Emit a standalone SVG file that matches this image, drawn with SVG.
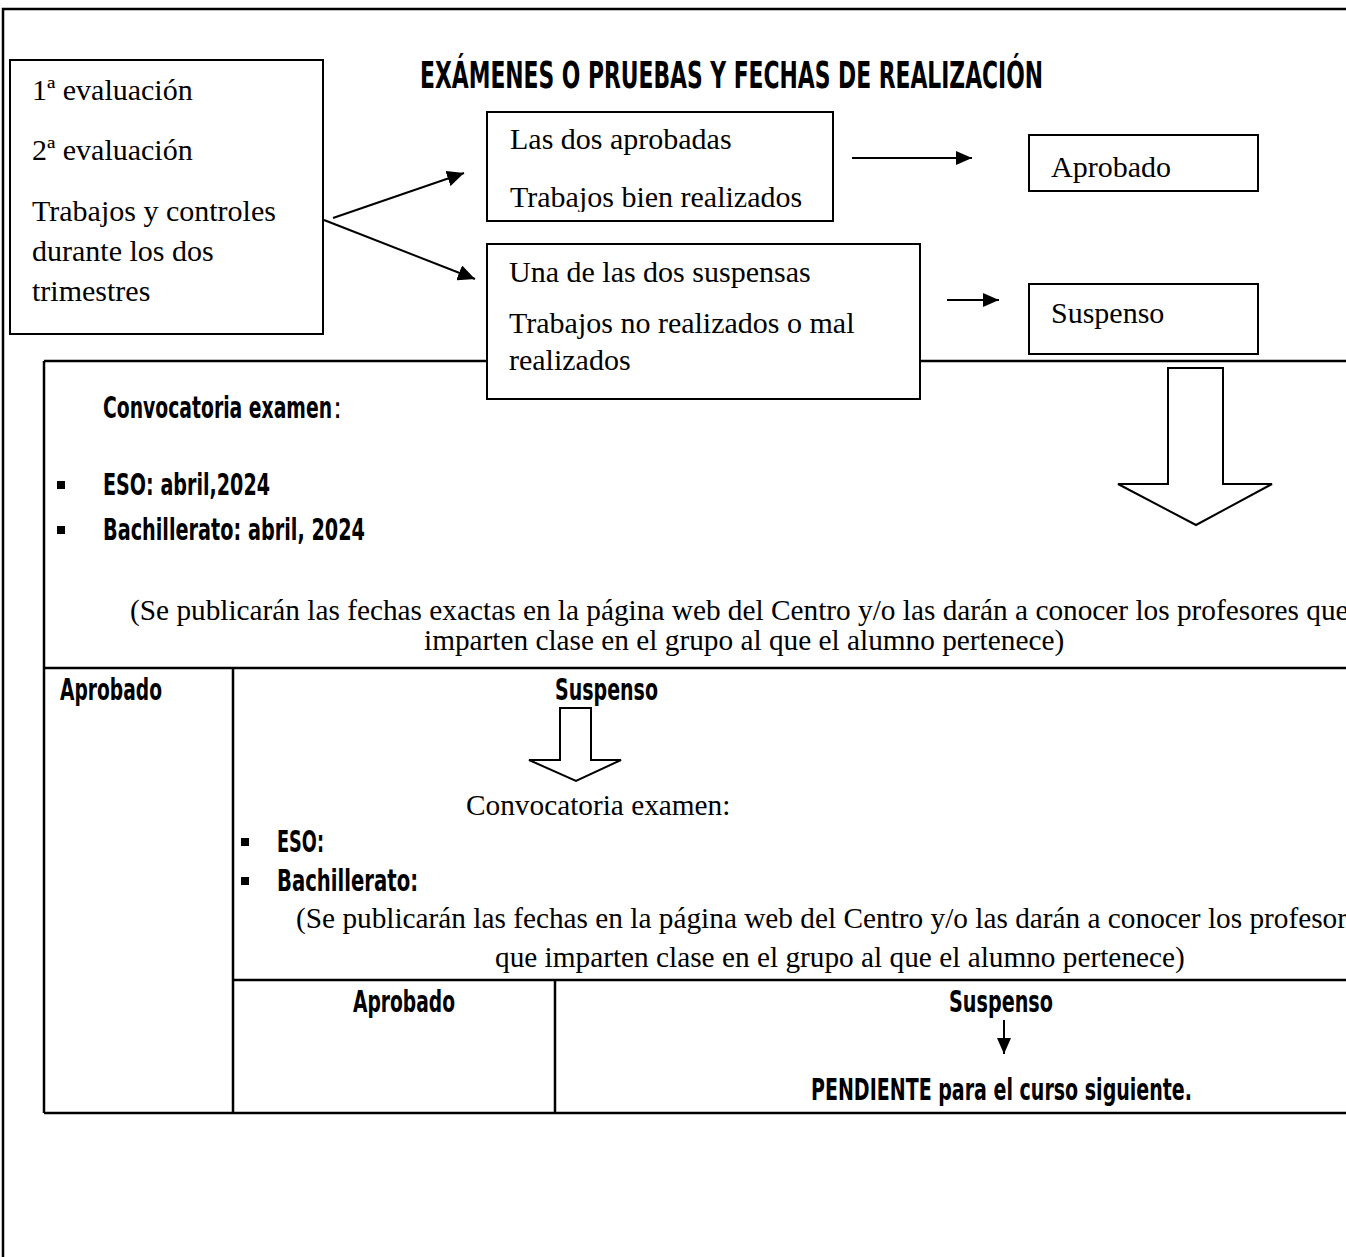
<svg xmlns="http://www.w3.org/2000/svg" width="1346" height="1257" viewBox="0 0 1346 1257">
<style>
.t{font-family:"Liberation Serif","Times New Roman",serif;font-size:30px;fill:#000}
.p{font-size:29.3px}
.b{font-family:"DejaVu Sans Condensed","DejaVu Sans",sans-serif;font-weight:bold;font-stretch:condensed;font-size:30px;fill:#000}
.n{font-weight:normal}
.ttl{font-size:37px}
.box{fill:#fff;stroke:#000;stroke-width:2}
.ln{stroke:#000;stroke-width:2.5;fill:none}
.con{stroke:#000;stroke-width:2;fill:none}
.hollow{fill:#fff;stroke:#000;stroke-width:2}
</style>
<defs>
<marker id="ah" markerUnits="userSpaceOnUse" markerWidth="18" markerHeight="16" refX="17" refY="8" orient="auto">
<path d="M0,0 L17,8 L0,16 z" fill="#000"/>
</marker>
<marker id="ahs" markerUnits="userSpaceOnUse" markerWidth="16" markerHeight="16" refX="16" refY="7" orient="auto">
<path d="M0,0 L16,7 L0,14 z" fill="#000"/>
</marker>
<clipPath id="clipUp"><rect x="488" y="113" width="344" height="99"/></clipPath>
</defs>
<rect width="1346" height="1257" fill="#fff"/>

<g id="frame">
<path class="ln" d="M3,1257 L3,9 L1350,9"/>
</g>

<g id="title">
<text class="b ttl" x="420" y="88" textLength="623" lengthAdjust="spacingAndGlyphs">EXÁMENES O PRUEBAS Y FECHAS DE REALIZACIÓN</text>
</g>

<g id="table">
<path class="ln" d="M44,361 L1350,361 M44,361 L44,1113 M44,668 L1350,668 M233,668 L233,1113 M233,980 L1350,980 M555,980 L555,1113 M44,1113 L1350,1113"/>
<text class="b" x="103" y="418" textLength="229" lengthAdjust="spacingAndGlyphs">Convocatoria examen</text>
<text class="b n" x="333" y="418">:</text>
<rect x="57" y="481" width="8" height="8" fill="#000"/>
<text class="b" x="103" y="495" textLength="167" lengthAdjust="spacingAndGlyphs">ESO: abril,2024</text>
<rect x="57" y="526" width="8" height="8" fill="#000"/>
<text class="b" x="103" y="540" textLength="262" lengthAdjust="spacingAndGlyphs">Bachillerato: abril, 2024</text>
<text class="t p" x="130" y="620">(Se publicarán las fechas exactas en la página web del Centro y/o las darán a conocer los profesores que</text>
<text class="t p" x="424" y="650">imparten clase en el grupo al que el alumno pertenece)</text>
<text class="b" x="60" y="700" textLength="102" lengthAdjust="spacingAndGlyphs">Aprobado</text>
<text class="b" x="555" y="700" textLength="103" lengthAdjust="spacingAndGlyphs">Suspenso</text>
<polygon class="hollow" points="560,708 591,708 591,760 621,760 576,781 529,760 560,760"/>
<text class="t p" x="466" y="815">Convocatoria examen:</text>
<rect x="241" y="838" width="8" height="8" fill="#000"/>
<text class="b" x="277" y="852" textLength="47" lengthAdjust="spacingAndGlyphs">ESO:</text>
<rect x="241" y="877" width="8" height="8" fill="#000"/>
<text class="b" x="277" y="891" textLength="141" lengthAdjust="spacingAndGlyphs">Bachillerato:</text>
<text class="t p" x="296" y="928">(Se publicarán las fechas en la página web del Centro y/o las darán a conocer los profesores</text>
<text class="t p" x="495" y="967">que imparten clase en el grupo al que el alumno pertenece)</text>
<text class="b" x="353" y="1012" textLength="102" lengthAdjust="spacingAndGlyphs">Aprobado</text>
<text class="b" x="949" y="1012" textLength="104" lengthAdjust="spacingAndGlyphs">Suspenso</text>
<text class="b" x="811" y="1100" textLength="381" lengthAdjust="spacingAndGlyphs">PENDIENTE para el curso siguiente.</text>
</g>

<g id="node-evaluaciones">
<rect class="box" x="10" y="60" width="313" height="274"/>
<text class="t" x="32" y="100">1ª evaluación</text>
<text class="t" x="32" y="160">2ª evaluación</text>
<text class="t" x="32" y="221">Trabajos y controles</text>
<text class="t" x="32" y="261">durante los dos</text>
<text class="t" x="32" y="301">trimestres</text>
</g>

<g id="node-aprobadas">
<rect class="box" x="487" y="112" width="346" height="109"/>
<g clip-path="url(#clipUp)">
<text class="t" x="510" y="149">Las dos aprobadas</text>
<text class="t" x="510" y="207">Trabajos bien realizados</text>
</g>
</g>

<g id="node-suspensas">
<rect class="box" x="487" y="244" width="433" height="155"/>
<text class="t" x="509" y="282">Una de las dos suspensas</text>
<text class="t" x="509" y="333">Trabajos no realizados o mal</text>
<text class="t" x="509" y="370">realizados</text>
</g>

<g id="node-aprobado">
<rect class="box" x="1029" y="135" width="229" height="56"/>
<text class="t" x="1051" y="177">Aprobado</text>
</g>

<g id="node-suspenso">
<rect class="box" x="1029" y="284" width="229" height="70"/>
<text class="t" x="1051" y="323">Suspenso</text>
</g>

<g id="connectors">
<line class="con" x1="333" y1="218" x2="464" y2="173" marker-end="url(#ah)"/>
<line class="con" x1="324" y1="220" x2="475" y2="279" marker-end="url(#ah)"/>
<line class="con" x1="852" y1="158" x2="972" y2="158" marker-end="url(#ahs)"/>
<line class="con" x1="947" y1="300" x2="999" y2="300" marker-end="url(#ahs)"/>
<line class="con" x1="1004" y1="1020" x2="1004" y2="1054" marker-end="url(#ahs)"/>
<polygon class="hollow" points="1168,368 1223,368 1223,484 1272,484 1196,525 1118,484 1168,484"/>
</g>
</svg>
